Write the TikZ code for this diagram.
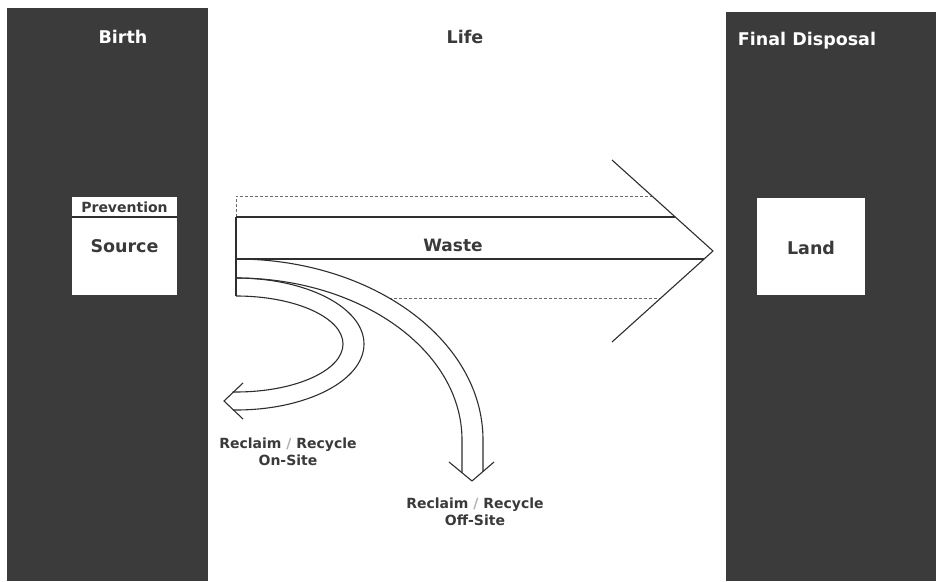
\documentclass[tikz,border=0pt]{standalone}
\usepackage{fontspec}
\setmainfont{DejaVu Sans}
\definecolor{panelgray}{HTML}{3B3B3B}
\definecolor{linegray}{HTML}{2E2E2E}
\definecolor{dashgray}{HTML}{6A6A6A}
\definecolor{labelgray}{HTML}{3A3A3A}
\definecolor{slashgray}{HTML}{B0B0B0}
\begin{document}
\begin{tikzpicture}[x=1pt,y=1pt,
  panel/.style={fill=panelgray, draw=none, anchor=south west, inner sep=0},
  whitebox/.style={fill=white, draw=none, anchor=south west, inner sep=0},
  ln/.style={draw=linegray, line width=1.1pt, line join=round},
  dsh/.style={draw=dashgray, line width=0.8pt, dash pattern=on 3pt off 2pt},
  title/.style={font=\fontsize{17.5}{20}\selectfont\bfseries, anchor=base, inner sep=0},
  boxtext/.style={font=\fontsize{17.5}{20}\selectfont\bfseries, text=labelgray, anchor=base, inner sep=0},
  lbl/.style={font=\fontsize{14}{17}\selectfont\bfseries, text=labelgray, align=center, anchor=base, inner sep=0},
]
\useasboundingbox (0,0) rectangle (936,581);
\fill[white] (0,0) rectangle (936,581);

% panels
\node[panel, minimum width=201pt, minimum height=573pt] (birthpanel) at (7,0) {};
\node[panel, minimum width=210pt, minimum height=569pt] (disppanel) at (726,0) {};

% titles
\node[title, text=white] (birth) at (123,537) {Birth};
\node[title, text=labelgray] (life) at (465,537) {Life};
\node[title, text=white] (disposal) at (807,535) {Final Disposal};

% source box
\node[whitebox, minimum width=105pt, minimum height=98pt] (source) at (72,286) {};
\draw[ln] (source.west |- 0,364) -- (source.east |- 0,364);
\node[font=\fontsize{14}{16}\selectfont\bfseries, text=labelgray, anchor=base, inner sep=0] (prevention) at (124.5,368.5) {Prevention};
\node[boxtext] (sourcetext) at (124.5,328) {Source};

% land box
\node[whitebox, minimum width=108pt, minimum height=97pt] (land) at (757,286) {};
\node[boxtext] (landtext) at (811,326) {Land};

% main waste arrow
\coordinate (dtl) at (236,385);
\coordinate (dtr) at (652,385);
\coordinate (stl) at (236,364);
\coordinate (str) at (675,364);
\coordinate (mtl) at (236,322);
\coordinate (mtr) at (704,322);
\coordinate (ltl) at (236,303);
\coordinate (btl) at (236,285);
\coordinate (dbl) at (389,283);
\coordinate (dbr) at (661,283);
\coordinate (wup) at (612,421);
\coordinate (tip) at (713,330);
\coordinate (wlo) at (612,239);

\draw[dsh] (stl) -- (dtl) -- (dtr);
\draw[dsh] (dbl) -- (dbr);
\draw[ln] (stl) -- (str);
\draw[ln] (mtl) -- (mtr);
\draw[ln] (stl) -- (btl);
\draw[ln] (wup) -- (tip) -- (wlo);
\node[font=\fontsize{17}{20}\selectfont\bfseries, text=labelgray, anchor=base, inner sep=0] (waste) at (453,329) {Waste};

% off-site arrow
\coordinate (offtip) at (472,100);
\coordinate (offwl) at (449,119);
\coordinate (offwr) at (494,119);
\draw[ln] (mtl) arc[start angle=90, end angle=0, x radius=247, y radius=181] -- (483,109.5);
\draw[ln] (ltl) arc[start angle=90, end angle=0, x radius=226, y radius=162] -- (462,108.3);
\draw[ln] (offwl) -- (offtip) -- (offwr);

% on-site arrow
\coordinate (ontip) at (224,180);
\coordinate (onwu) at (243,198);
\coordinate (onwl) at (243,162);
\draw[ln] (ltl) arc[start angle=90, end angle=-90, x radius=128, y radius=66] -- (233.5,171);
\draw[ln] (btl) arc[start angle=90, end angle=-90, x radius=107, y radius=48] -- (232.5,189);
\draw[ln] (onwu) -- (ontip) -- (onwl);

% labels
\node[lbl] (onsite) at (288,116) {Reclaim {\color{slashgray}/} Recycle\\On-Site};
\node[lbl] (offsite) at (475,56) {Reclaim {\color{slashgray}/} Recycle\\Off-Site};
\end{tikzpicture}
\end{document}
